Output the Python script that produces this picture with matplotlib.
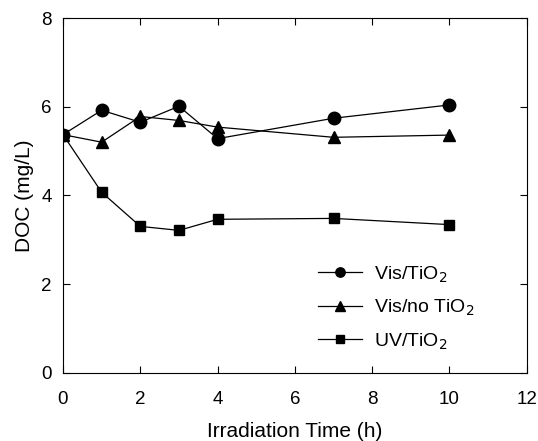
import matplotlib
matplotlib.use("Agg")
import matplotlib.pyplot as plt

plt.rcParams['font.family'] = ['Liberation Sans', 'DejaVu Sans']

time = [0, 1, 2, 3, 4, 7, 10]
vis_tio2 = [5.37, 5.92, 5.65, 6.01, 5.28, 5.74, 6.04]
vis_no_tio2 = [5.37, 5.20, 5.78, 5.69, 5.54, 5.31, 5.36]
uv_tio2 = [5.37, 4.07, 3.30, 3.21, 3.46, 3.48, 3.34]

fig = plt.figure(figsize=(5.38, 4.41), dpi=100)
ax = fig.add_axes([0.1171, 0.155, 0.862, 0.804])

ax.plot(time, vis_tio2, marker='o', label='Vis/TiO$_2$', color='black', lw=0.9, ms=9)
ax.plot(time, vis_no_tio2, marker='^', label='Vis/no TiO$_2$', color='black', lw=0.9, ms=9)
ax.plot(time, uv_tio2, marker='s', label='UV/TiO$_2$', color='black', lw=0.9, ms=7.5)

ax.set_xlim(0, 12)
ax.set_ylim(0, 8)
ax.set_xticks(range(0, 13, 2))
ax.set_yticks(range(0, 9, 2))
ax.tick_params(direction='in', top=True, right=True, labelsize=13.5, length=5, width=0.8)
ax.tick_params(axis='x', pad=13)
ax.tick_params(axis='y', pad=8)
for s in ax.spines.values():
    s.set_linewidth(0.8)
ax.set_xlabel('Irradiation Time (h)', fontsize=15, labelpad=10)
ax.set_ylabel('DOC (mg/L)', fontsize=15, labelpad=5)
ax.legend(loc='lower right', bbox_to_anchor=(0.925, 0.01), frameon=False, fontsize=14,
          handlelength=2.3, labelspacing=0.68, markerscale=0.75, handletextpad=0.6)

fig.savefig('out.png', dpi=100)
